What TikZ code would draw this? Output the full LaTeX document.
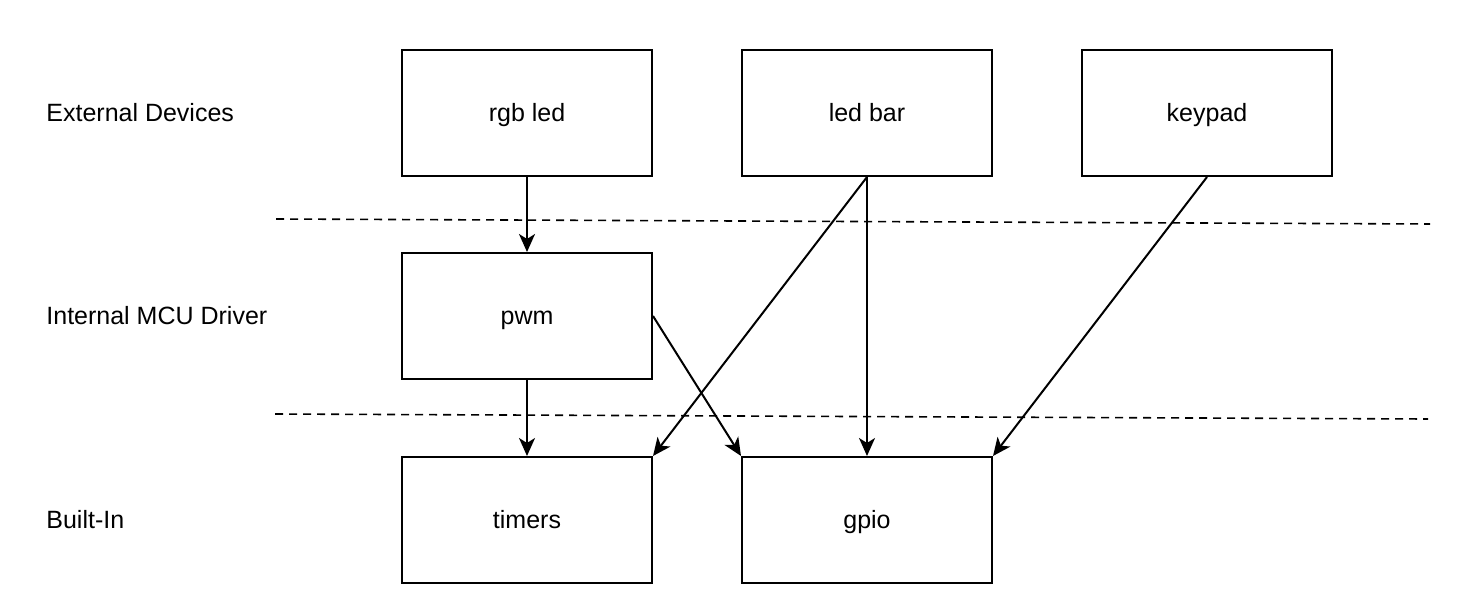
\documentclass[tikz,border=0pt]{standalone}
\usepackage{fontspec}
\setmainfont{Liberation Sans}
\usetikzlibrary{arrows.meta}
\begin{document}
\begin{tikzpicture}[x=0.5pt, y=-0.5pt,
	block/.style={draw=black, line width=1pt, minimum width=125pt, minimum height=63pt, inner sep=0pt, text height=0.9em, text depth=0.08em, font=\fontsize{12.5}{15}\selectfont},
	layer/.style={anchor=west, inner sep=0pt, text height=0.9em, text depth=0.08em, font=\fontsize{12.5}{15}\selectfont},
	link/.style={line width=1pt, -{Stealth[length=9pt, width=8pt, inset=2.5pt]}},
	sep/.style={line width=0.8pt, dash pattern=on 4pt off 3pt}]
	\useasboundingbox (0,0) rectangle (1482,610);
	% Layers
	\node[layer] (ext) at (46,113) {External Devices};
	\node[layer] (drv) at (46,316) {Internal MCU Driver};
	\node[layer] (bin) at (46,520) {Built-In};
	% Separators
	\coordinate (s1a) at (276,219);
	\coordinate (s1b) at (1430,224);
	\coordinate (s2a) at (275,414);
	\coordinate (s2b) at (1428,419);
	\draw [sep] (s1a) -- (s1b);
	\draw [sep] (s2a) -- (s2b);
	% Blocks
	\node[block] (rgb)    at (527,113)  {rgb led};
	\node[block] (ledbar) at (867,113)  {led bar};
	\node[block] (keypad) at (1207,113) {keypad};
	\node[block] (pwm)    at (527,316)  {pwm};
	\node[block] (timers) at (527,520)  {timers};
	\node[block] (gpio)   at (867,520)  {gpio};
	% Links
	\draw [link] (rgb.south) -- (pwm.north);
	\draw [link] (pwm.south) -- (timers.north);
	\draw [link] (pwm.east) -- (gpio.north west);
	\draw [link] (ledbar.south) -- (timers.north east);
	\draw [link] (ledbar.south) -- (gpio.north);
	\draw [link] (keypad.south) -- (gpio.north east);
\end{tikzpicture}
\end{document}
